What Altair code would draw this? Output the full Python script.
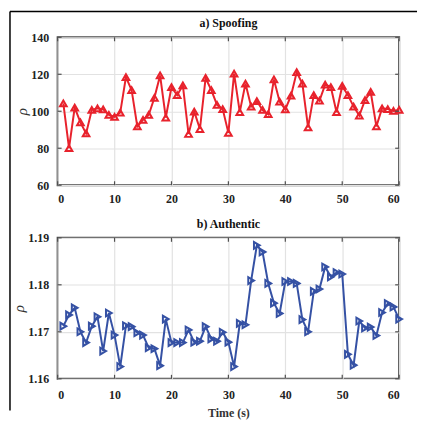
import altair as alt
import pandas as pd

# ---- data ----
time_s = list(range(1, 61))
spoof_rho = [104.3, 80.0, 102.0, 94.0, 88.0, 100.7, 101.6, 101.0, 98.0, 97.0,
             99.3, 118.5, 111.4, 91.8, 95.4, 98.0, 107.3, 119.4, 96.6, 113.0,
             108.7, 114.0, 87.7, 99.8, 90.4, 118.0, 111.4, 103.4, 101.2, 88.3,
             120.3, 99.5, 115.0, 102.5, 105.5, 100.7, 98.4, 117.2, 105.2, 101.0,
             108.4, 121.1, 115.0, 91.3, 108.7, 105.7, 114.4, 113.1, 99.5, 113.7,
             108.7, 102.5, 97.7, 106.0, 110.5, 91.8, 101.6, 101.2, 100.2, 100.7]
auth_rho = [1.1712, 1.1736, 1.1751, 1.1700, 1.1677, 1.1712, 1.1732, 1.1659, 1.1740, 1.1693,
            1.1626, 1.1713, 1.1711, 1.1698, 1.1693, 1.1666, 1.1664, 1.1628, 1.1727, 1.1677,
            1.1677, 1.1677, 1.1704, 1.1678, 1.1680, 1.1711, 1.1685, 1.1680, 1.1699, 1.1678,
            1.1626, 1.1718, 1.1715, 1.1809, 1.1884, 1.1870, 1.1803, 1.1761, 1.1739, 1.1807,
            1.1807, 1.1803, 1.1726, 1.1700, 1.1786, 1.1791, 1.1838, 1.1817, 1.1826, 1.1823,
            1.1652, 1.1629, 1.1723, 1.1708, 1.1710, 1.1692, 1.1741, 1.1760, 1.1753, 1.1727]
x_ticks = [0, 10, 20, 30, 40, 50, 60]
top_y_ticks = [60, 80, 100, 120, 140]
bot_y_ticks = [1.16, 1.17, 1.18, 1.19]
panel_titles = ["a) Spoofing", "b) Authentic"]
x_title = "Time (s)"
y_title = "\u03c1"

W = 344
H1 = 149
H2 = 142
FONT = "Liberation Serif"
RED = "#e8222c"
BLUE = "#3551a4"
GRID = "#e2e2e2"
TICK = "#505050"

df_top = pd.DataFrame({"t": time_s, "v": spoof_rho})
df_bot = pd.DataFrame({"t": time_s, "v": auth_rho})


def panel(df, color, shape, ydom, yticks, yfmt, height, title, show_xtitle,
          xlabpad, extra=None):
    xs = alt.Scale(domain=[0, 60], nice=False, zero=False)
    ys = alt.Scale(domain=ydom, nice=False, zero=False)
    xaxis = alt.Axis(values=x_ticks, format="d", labelPadding=xlabpad,
                     title=x_title if show_xtitle else "", titlePadding=7)
    yaxis = alt.Axis(values=yticks, format=yfmt, labelPadding=9,
                     title=y_title, titleFontSize=15, titleFontStyle="italic",
                     titleFontWeight="normal", titlePadding=1)

    def X(**kw):
        return alt.X("t:Q", scale=xs, axis=xaxis, **kw)

    def Y(**kw):
        return alt.Y("v:Q", scale=ys, axis=yaxis, **kw)

    base = alt.Chart(df)
    line = base.mark_line(color=color, strokeWidth=2).encode(x=X(), y=Y())
    pts = base.mark_point(shape=shape, filled=False, color=color, strokeWidth=2,
                          size=45, opacity=1).encode(x=X(), y=Y())

    xt = pd.DataFrame({"t": x_ticks})
    yt = pd.DataFrame({"v": yticks})
    xb = alt.Chart(xt).mark_rule(color=TICK, strokeWidth=1.2).encode(
        x=X(), y=alt.value(height), y2=alt.value(height - 4))
    xtop = alt.Chart(xt).mark_rule(color=TICK, strokeWidth=1.2).encode(
        x=X(), y=alt.value(0), y2=alt.value(4))
    yl = alt.Chart(yt).mark_rule(color=TICK, strokeWidth=1.2).encode(
        y=Y(), x=alt.value(0), x2=alt.value(4))
    yr = alt.Chart(yt).mark_rule(color=TICK, strokeWidth=1.2).encode(
        y=Y(), x=alt.value(W), x2=alt.value(W - 4))
    ttl = alt.Chart(pd.DataFrame({"title": [title]})).mark_text(
        font=FONT, fontSize=12, fontWeight="bold", color="#111", baseline="middle",
        align="center").encode(text="title:N", x=alt.value(W / 2), y=alt.value(-14))
    layers = [line, pts, xb, xtop, yl, yr, ttl]
    if extra is not None:
        layers += extra
    return alt.layer(*layers).properties(width=W, height=height)


frame_df = pd.DataFrame({"k": [0]})
frame_left = alt.Chart(frame_df).mark_rule(color="#000", strokeWidth=1.5).encode(
    x=alt.value(-48), y=alt.value(-26), y2=alt.value(376))
frame_top = alt.Chart(frame_df).mark_rule(color="#000", strokeWidth=1.5).encode(
    x=alt.value(-48), x2=alt.value(362), y=alt.value(-26))

top = panel(df_top, RED, "triangle-up", [60, 140], top_y_ticks, "d", H1,
            panel_titles[0], False, 8, extra=[frame_left, frame_top])
bot = panel(df_bot, BLUE, "triangle-right", [1.16, 1.19], bot_y_ticks, ".2f", H2,
            panel_titles[1], True, 11)

chart = alt.vconcat(top, bot, spacing=53, bounds="flush").properties(
    padding={"left": 0, "top": 0, "right": 0, "bottom": 0},
    background="white",
).configure_view(
    stroke="#4a4a4a", strokeWidth=2
).configure_axis(
    grid=True, gridColor=GRID, gridWidth=1.2, domain=False, ticks=False,
    labelFont=FONT, labelFontSize=12, labelFontWeight="bold", labelColor="#222",
    titleFont=FONT, titleFontSize=12, titleFontWeight="bold", titleColor="#333",
)

chart.save("out.html", embed_options={"renderer": "svg", "actions": False})
